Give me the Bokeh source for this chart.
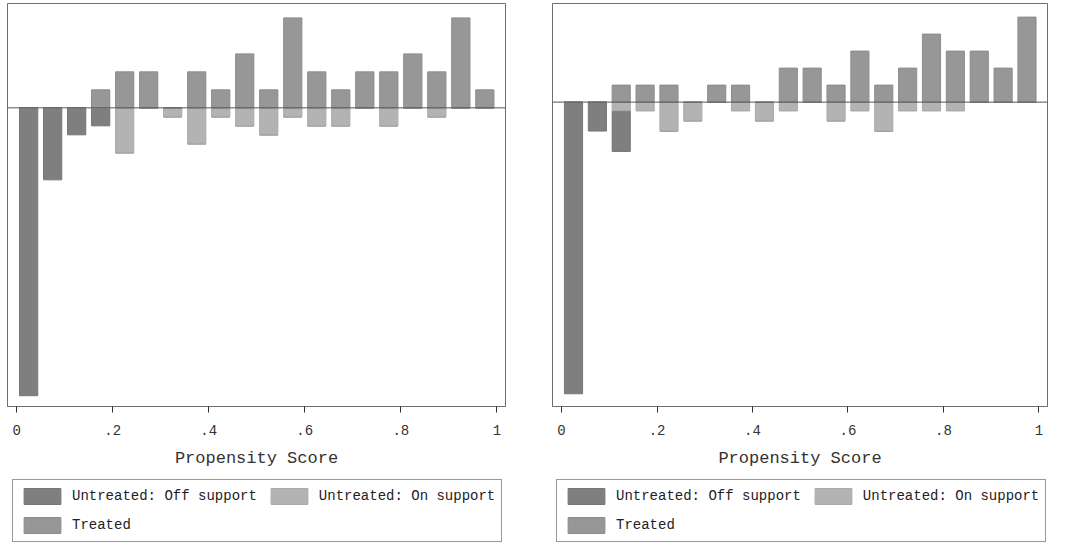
from bokeh.plotting import figure
from bokeh.models import Range1d, FixedTicker, Span, Legend, LegendItem, ColumnDataSource
from bokeh.layouts import row, column
from bokeh.embed import file_html
from bokeh.resources import INLINE

# bin centres of the propensity score histogram
bins = [0.025, 0.075, 0.125, 0.175, 0.225, 0.275, 0.325, 0.375, 0.425, 0.475,
        0.525, 0.575, 0.625, 0.675, 0.725, 0.775, 0.825, 0.875, 0.925, 0.975]
tick_values = [0, 0.2, 0.4, 0.6, 0.8, 1.0]
tick_labels = ["0", ".2", ".4", ".6", ".8", "1"]
x_title = "Propensity Score"
series_names = ["Untreated: Off support", "Untreated: On support", "Treated"]

# left panel
treated_L = [0, 0, 0, 2, 4, 4, 0, 4, 2, 6, 2, 10, 4, 2, 4, 4, 6, 4, 10, 2]
on_L = [0, 0, 0, 0, 5, 0, 1, 4, 1, 2, 3, 1, 2, 2, 0, 2, 0, 1, 0, 0]
off_L = [32, 8, 3, 2, 0, 0, 0, 0, 0, 0, 0, 0, 0, 0, 0, 0, 0, 0, 0, 0]

# right panel
treated_R = [0, 0, 2, 2, 2, 0, 2, 2, 0, 4, 4, 2, 6, 2, 4, 8, 6, 6, 4, 10]
on_R = [0, 0, 1.0, 1.0, 3.4, 2.2, 0, 1.0, 2.2, 1.0, 0, 2.2, 1.0, 3.4, 1.0, 1.0, 1.0, 0, 0, 0]
off_R = [34.3, 3.4, 4.8, 0, 0, 0, 0, 0, 0, 0, 0, 0, 0, 0, 0, 0, 0, 0, 0, 0]

C_OFF = "#7f7f7f"
C_ON = "#b3b3b3"
C_TR = "#979797"
L_OFF = "#777777"
L_ON = "#aaaaaa"
L_TR = "#8c8c8c"
FONT = "Liberation Mono"


def add_bars(fig, src):
    bw = 0.038
    r_off = fig.vbar(x="x", top="on_b", bottom="off_b", width=bw, source=src,
                     fill_color=C_OFF, line_color=L_OFF, line_width=1)
    r_on = fig.vbar(x="x", top="zero", bottom="on_b", width=bw, source=src,
                    fill_color=C_ON, line_color=L_ON, line_width=1)
    r_tr = fig.vbar(x="x", top="t", bottom="zero", width=bw, source=src,
                    fill_color=C_TR, line_color=L_TR, line_width=1)
    return r_off, r_on, r_tr


def panel(treated, on, off, y_lo, y_hi, width, mb_left, mb_right, leg_x):
    src = ColumnDataSource(dict(
        x=bins,
        t=treated,
        zero=[0] * len(bins),
        on_b=[-v for v in on],
        off_b=[-(a + b) for a, b in zip(on, off)],
    ))
    p = figure(width=width, height=478, x_range=Range1d(-0.019, 1.018),
               y_range=Range1d(y_lo, y_hi), output_backend="svg",
               toolbar_location=None, y_axis_location=None,
               min_border_left=mb_left, min_border_right=mb_right,
               min_border_top=3, min_border_bottom=72)
    p.grid.visible = False
    p.outline_line_color = "#6e6e6e"
    p.outline_line_width = 1
    p.background_fill_color = "white"
    p.border_fill_color = "white"

    add_bars(p, src)
    p.add_layout(Span(location=0, dimension="width", line_color="#555555", line_width=1))

    ax = p.xaxis[0]
    ax.ticker = FixedTicker(ticks=tick_values)
    ax.major_label_overrides = {v: l for v, l in zip(tick_values, tick_labels)}
    ax.minor_tick_line_color = None
    ax.major_tick_in = 0
    ax.major_tick_out = 6
    ax.major_tick_line_color = "#333333"
    ax.axis_line_color = "#6e6e6e"
    ax.major_label_text_font = FONT
    ax.major_label_text_font_size = "14px"
    ax.major_label_text_color = "#333333"
    ax.major_label_standoff = 12
    ax.axis_label = x_title
    ax.axis_label_text_font = FONT
    ax.axis_label_text_font_size = "17px"
    ax.axis_label_text_font_style = "normal"
    ax.axis_label_text_color = "#333333"
    ax.axis_label_standoff = 11

    # legend strip below the panel (bars fall outside its y-range, only the key shows)
    lf = figure(width=width, height=66, x_range=Range1d(-0.019, 1.018),
                y_range=Range1d(1000, 1001),
                output_backend="svg", toolbar_location=None,
                x_axis_location=None, y_axis_location=None,
                min_border_left=mb_left, min_border_right=mb_right,
                min_border_top=0, min_border_bottom=0)
    lf.grid.visible = False
    lf.outline_line_color = None
    r_off, r_on, r_tr = add_bars(lf, src)
    leg = Legend(items=[LegendItem(label=series_names[0], renderers=[r_off]),
                        LegendItem(label=series_names[1], renderers=[r_on]),
                        LegendItem(label=series_names[2], renderers=[r_tr])],
                 orientation="horizontal", ncols=2,
                 location=(leg_x, 2), margin=0, padding=6,
                 glyph_width=46, glyph_height=20, label_height=20,
                 label_standoff=7, spacing=9,
                 label_text_font=FONT, label_text_font_size="14px",
                 label_text_color="#222222",
                 border_line_color="#333333", border_line_width=1,
                 background_fill_color="white")
    lf.add_layout(leg)
    return column(p, lf, spacing=0)


pL = panel(treated_L, on_L, off_L, -33.2, 11.6, 527, 7, 22, 5)
pR = panel(treated_R, on_R, off_R, -35.8, 11.6, 522, 25, 2, 4)
layout = row(pL, pR, spacing=0)

open("out.html", "w").write(file_html(layout, INLINE))
